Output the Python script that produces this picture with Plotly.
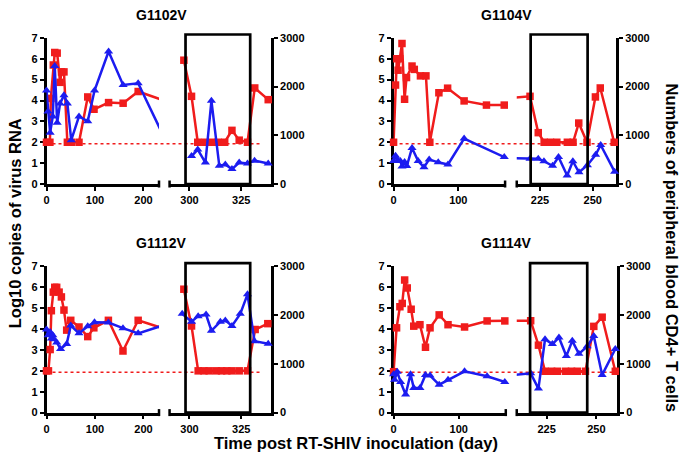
import plotly.graph_objects as go

W, H = 685, 468
RED = "#f01c1c"
BLUE = "#1c1cf0"
FONT = "Liberation Sans, Arial, Helvetica, sans-serif"

# ---------------- data ----------------
titles = ["G1102V", "G1104V", "G1112V", "G1114V"]

# G1102V
g1102_rna_day = [0, 7, 9, 14, 17, 22, 28, 31, 36, 43, 51, 67, 85, 98, 128, 158, 189, 240]
g1102_rna_val = [2.0, 2.0, 4.1, 5.7, 6.3, 6.27, 4.87, 5.37, 5.37, 2.0, 2.0, 2.0, 4.17, 3.58, 3.9, 3.87, 4.43, 4.02]
g1102_cd4_day = [0, 3, 7.5, 13, 17, 22, 28, 36, 43, 51, 67, 85, 99, 128, 158, 189, 240]
g1102_cd4_val = [1920, 1488, 1054, 1388, 2420, 1255, 1654, 1820, 1654, 900, 1388, 1288, 1920, 2720, 2033, 2067, 1011]
g1102_rna_day2 = [297.3, 301, 304, 307.4, 310.6, 313.8, 317, 320.5, 324, 328, 331.5, 338]
g1102_rna_val2 = [5.93, 4.2, 2.0, 2.0, 2.0, 2.0, 2.0, 2.57, 2.1, 2.0, 4.6, 4.04]
g1102_cd4_day2 = [301, 304, 307.7, 310.6, 314.4, 317.3, 320.5, 324, 328, 331.4, 338]
g1102_cd4_val2 = [573, 707, 440, 1707, 373, 400, 307, 440, 420, 480, 420]

# G1104V
g1104_rna_day = [0, 3, 5, 7, 9.5, 13, 17, 20, 28.5, 32, 41.5, 50, 56, 70, 83.5, 109, 143.5, 171]
g1104_rna_val = [2.0, 4.74, 6.0, 5.45, 6.0, 6.73, 4.06, 5.1, 5.65, 5.49, 5.18, 5.18, 2.0, 4.37, 4.59, 3.98, 3.78, 3.78]
g1104_cd4_day = [0, 3, 6.5, 10.5, 13, 17, 20.5, 28.5, 38, 47, 55, 69, 84, 109, 171]
g1104_cd4_val = [470, 580, 490, 470, 360, 450, 370, 740, 470, 345, 505, 445, 400, 933, 553]
g1104_rna_day2 = [220.3, 224.2, 227, 230, 233, 238, 240.7, 243.4, 247.3, 251.3, 253.6, 260.2]
g1104_rna_val2 = [4.2, 2.46, 2.0, 2.0, 2.0, 2.0, 2.0, 2.92, 2.0, 4.17, 4.6, 2.0]
g1104_cd4_day2 = [220.3, 224.2, 226.9, 231, 233.8, 237.9, 240.6, 243.5, 247.5, 251.4, 253.8, 260.4]
g1104_cd4_val2 = [520, 520, 467, 373, 553, 173, 467, 240, 387, 600, 800, 253]

# G1112V
g1112_rna_day = [0, 4, 7.5, 10, 14, 17, 21, 26, 30.7, 36, 41.6, 50, 67, 85, 97.6, 127.6, 157.7, 189, 240]
g1112_rna_val = [2.0, 2.0, 3.02, 4.88, 5.77, 6.0, 6.0, 5.77, 5.54, 4.91, 3.95, 4.42, 4.1, 3.64, 4.06, 4.42, 2.95, 4.42, 4.035]
g1112_cd4_day = [0, 3.4, 7.5, 10, 13, 15.7, 21, 29, 41.6, 50, 67, 85, 99, 127.6, 157.7, 189, 240]
g1112_cd4_val = [1707, 1587, 1653, 1520, 1587, 1507, 1440, 1307, 1407, 1787, 1627, 1773, 1853, 1847, 1733, 1627, 1789]
g1112_rna_day2 = [297.3, 301, 304.2, 307, 309.5, 313, 315.5, 318, 320.5, 324, 328, 331.7, 337.8]
g1112_rna_val2 = [5.91, 4.15, 2.0, 2.0, 2.0, 2.0, 2.0, 2.0, 2.0, 2.0, 2.0, 3.98, 4.26]
g1112_cd4_day2 = [296.5, 301, 304.2, 308, 310.6, 314.9, 317.3, 320.5, 324.5, 328, 331.4, 338]
g1112_cd4_val2 = [2027, 1867, 1980, 2013, 1680, 1867, 1893, 1780, 2027, 2427, 1467, 1413]

# G1114V
g1114_rna_day = [0, 4.6, 9.7, 13.3, 17, 21, 27, 31, 40.5, 49, 56, 70, 83.6, 109, 143.6, 170.8]
g1114_rna_val = [1.96, 4.06, 5.07, 5.23, 6.35, 5.97, 4.95, 4.14, 4.21, 3.13, 4.06, 4.68, 4.21, 4.1, 4.39, 4.39]
g1114_cd4_day = [0, 1.5, 5.6, 10.8, 18.5, 26, 31, 40.5, 49, 56, 70, 83.6, 109, 143.6, 170.8]
g1114_cd4_val = [787, 673, 840, 627, 373, 787, 507, 507, 773, 760, 573, 673, 847, 747, 627]
g1114_rna_day2 = [217, 220.9, 224.2, 227.5, 230.4, 234.5, 237.5, 240.4, 244.5, 248.7, 252.9, 259.5]
g1114_rna_val2 = [4.4, 3.23, 1.98, 1.98, 1.98, 1.98, 1.98, 1.98, 1.98, 4.13, 4.57, 1.98]
g1114_cd4_day2 = [217, 220.9, 224.2, 227.9, 231.2, 234.9, 237.9, 241.2, 245.4, 248.7, 252.9, 259.5]
g1114_cd4_val2 = [806, 493, 1506, 1406, 1540, 1160, 1473, 1206, 1360, 1573, 773, 1306]

# axis segments (days) and treatment boxes (days)
left_range = [[0, 232], [0, 172.3], [0, 232], [0, 172.3]]
right_range = [[290.4, 339.4], [214, 261.2], [290.4, 339.4], [210, 260.5]]
left_ticks = [[0, 100, 200], [0, 100], [0, 100, 200], [0, 100]]
right_ticks = [[300, 325], [225, 250], [300, 325], [225, 250]]
box_days = [[298.1, 329.3], [220.6, 247.6], [298.1, 329.3], [216.7, 245.4]]
join_segments = [False, True, False, True]
detect_limit = 1.93
detect_end_day = [334.9, 261.2, 334.9, 260.5]
rna_ticks = [0, 1, 2, 3, 4, 5, 6, 7]
cd4_ticks = [0, 1000, 2000, 3000]

series = [
    (g1102_rna_day, g1102_rna_val, g1102_cd4_day, g1102_cd4_val,
     g1102_rna_day2, g1102_rna_val2, g1102_cd4_day2, g1102_cd4_val2),
    (g1104_rna_day, g1104_rna_val, g1104_cd4_day, g1104_cd4_val,
     g1104_rna_day2, g1104_rna_val2, g1104_cd4_day2, g1104_cd4_val2),
    (g1112_rna_day, g1112_rna_val, g1112_cd4_day, g1112_cd4_val,
     g1112_rna_day2, g1112_rna_val2, g1112_cd4_day2, g1112_cd4_val2),
    (g1114_rna_day, g1114_rna_val, g1114_cd4_day, g1114_cd4_val,
     g1114_rna_day2, g1114_rna_val2, g1114_cd4_day2, g1114_cd4_val2),
]

# ---------------- layout geometry (pixels) ----------------
col_px = [[((43.7, 156.7), (167.3, 269.3)), ((392.3, 504.3), (516, 616))],
          [((43.7, 156.7), (167.3, 269.3)), ((392.3, 505), (516, 617))]]
row_px = [(32.7, 182.7), (267.3, 417.3)]
title_px = [(159, 9.5), (505.5, 9.5), (159, 243.5), (505.5, 243.5)]


def fx(px):
    return px / W


def fy(py):
    return 1 - py / H


def sfx(i):
    return "" if i == 1 else str(i)


tickfont = dict(family=FONT, size=11, color="black", weight="bold")
axis_common = dict(showline=True, linewidth=2.5, linecolor="black", ticks="outside",
                   ticklen=4, tickwidth=2, tickcolor="black", showgrid=False,
                   zeroline=False, tickfont=tickfont, layer="below traces", fixedrange=True)

fig = go.Figure()
layout = {}
shapes = []
annotations = []


def in_range(days, vals, rng):
    xs, ys = [], []
    for d, v in zip(days, vals):
        if rng[0] - 1e-9 <= d <= rng[1] + 1e-9:
            xs.append(d)
            ys.append(v)
    return xs, ys


for p in range(4):
    col, row = p % 2, p // 2
    (la, lb), (ra, rb) = col_px[row][col]
    ytop, ybot = row_px[row]
    xa, xb = sfx(2 * p + 1), sfx(2 * p + 2)
    yr, yc = sfx(2 * p + 1), sfx(2 * p + 2)
    ydom = [fy(ybot), fy(ytop)]

    layout[f"xaxis{xa}"] = dict(domain=[fx(la), fx(lb)], range=left_range[p], anchor=f"y{yr}",
                                tickvals=left_ticks[p], **axis_common)
    layout[f"xaxis{xb}"] = dict(domain=[fx(ra), fx(rb)], range=right_range[p], anchor=f"y{yr}",
                                tickvals=right_ticks[p], **axis_common)
    layout[f"yaxis{yr}"] = dict(domain=ydom, range=[0, 7], anchor=f"x{xa}",
                                tickvals=rna_ticks, **axis_common)
    layout[f"yaxis{yc}"] = dict(range=[0, 3000], anchor=f"x{xb}", overlaying=f"y{yr}",
                                side="right", tickvals=cd4_ticks, **axis_common)

    rd, rv, cd, cv, rd2, rv2, cd2, cv2 = series[p]
    if join_segments[p]:
        line_sets = [(rd + rd2, rv + rv2, cd + cd2, cv + cv2)] * 2
    else:
        line_sets = [(rd, rv, cd, cv), (rd2, rv2, cd2, cv2)]
    mark_sets = [(rd, rv, cd, cv), (rd2, rv2, cd2, cv2)]
    ranges = [left_range[p], right_range[p]]

    for s, xi in enumerate([xa, xb]):
        lrd, lrv, lcd, lcv = line_sets[s]
        mrd, mrv, mcd, mcv = mark_sets[s]
        # CD4 (blue) lines & markers on right axis
        fig.add_trace(go.Scatter(x=lcd, y=lcv, mode="lines", xaxis=f"x{xi}", yaxis=f"y{yc}",
                                 line=dict(color=BLUE, width=2.5), hoverinfo="skip"))
        mx, my = in_range(mcd, mcv, ranges[s])
        fig.add_trace(go.Scatter(x=mx, y=my, mode="markers", xaxis=f"x{xi}", yaxis=f"y{yc}",
                                 cliponaxis=False,
                                 marker=dict(symbol="triangle-up", size=8, color=BLUE)))
        # RNA (red) lines & markers on left axis
        fig.add_trace(go.Scatter(x=lrd, y=lrv, mode="lines", xaxis=f"x{xi}", yaxis=f"y{yr}",
                                 line=dict(color=RED, width=2.5), hoverinfo="skip"))
        mx, my = in_range(mrd, mrv, ranges[s])
        fig.add_trace(go.Scatter(x=mx, y=my, mode="markers", xaxis=f"x{xi}", yaxis=f"y{yr}",
                                 cliponaxis=False,
                                 marker=dict(symbol="square", size=7.5, color=RED)))

    # treatment box
    shapes.append(dict(type="rect", xref=f"x{xb}", yref=f"y{yr} domain",
                       x0=box_days[p][0], x1=box_days[p][1], y0=0, y1=1.023,
                       line=dict(color="black", width=2.7), fillcolor="rgba(0,0,0,0)"))
    # detection limit dotted line spanning both segments
    rr = right_range[p]
    end_px = ra + (detect_end_day[p] - rr[0]) / (rr[1] - rr[0]) * (rb - ra)
    shapes.append(dict(type="line", xref="paper", yref=f"y{yr}", x0=fx(la), x1=fx(end_px),
                       y0=detect_limit, y1=detect_limit, layer="below",
                       line=dict(color=RED, width=1.5, dash="dot")))
    # break end-caps on the x axis
    for xi, xpos in [(xa, 1), (xb, 0)]:
        shapes.append(dict(type="line", xref=f"x{xi} domain", yref=f"y{yr} domain",
                           x0=xpos, x1=xpos, ysizemode="pixel", yanchor=0, y0=-3.5, y1=3.5,
                           line=dict(color="black", width=2.5)))
    # panel title
    tx, ty = title_px[p]
    annotations.append(dict(text=titles[p], x=fx(tx), y=fy(ty), xref="paper", yref="paper",
                            xanchor="center", yanchor="middle", showarrow=False,
                            font=dict(family=FONT, size=14, color="black", weight="bold")))

title_font = dict(family=FONT, size=16.5, color="black", weight="bold")
annotations.append(dict(text="Log10 copies of virus RNA", x=fx(12), y=fy(223), xref="paper",
                        yref="paper", textangle=-90, showarrow=False, xanchor="center",
                        yanchor="middle", font=title_font))
annotations.append(dict(text="Numbers of peripheral blood CD4+ T cells", x=fx(672), y=fy(248),
                        xref="paper", yref="paper", textangle=90, showarrow=False,
                        xanchor="center", yanchor="middle", font=title_font))
annotations.append(dict(text="Time post RT-SHIV inoculation (day)", x=fx(355), y=fy(448),
                        xref="paper", yref="paper", showarrow=False, xanchor="center",
                        yanchor="middle", font=title_font))

fig.update_layout(width=W, height=H, margin=dict(l=0, r=0, t=0, b=0), showlegend=False,
                  paper_bgcolor="white", plot_bgcolor="white", shapes=shapes,
                  annotations=annotations, **layout)

fig.write_html("out.html", config={"displayModeBar": False},
               post_script="document.body.style.margin='0';document.body.style.overflow='hidden';")
